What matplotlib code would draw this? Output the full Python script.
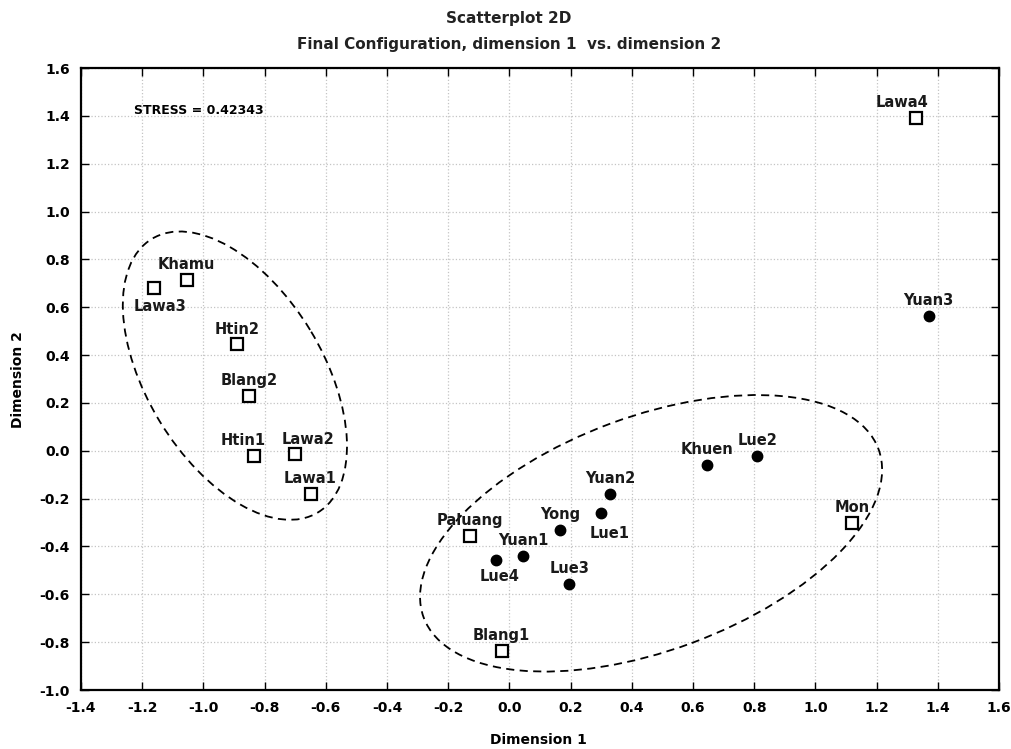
import matplotlib
matplotlib.use("Agg")
import matplotlib.pyplot as plt
from matplotlib.patches import Ellipse
from matplotlib.transforms import Affine2D

# coordinates from the MDS solution
names = ["Khamu", "Lawa3", "Htin2", "Blang2", "Htin1", "Lawa2", "Lawa1",
         "Paluang", "Lue4", "Yuan1", "Yong", "Lue1", "Yuan2", "Lue3",
         "Blang1", "Khuen", "Lue2", "Mon", "Lawa4", "Yuan3"]
dim1 = [-1.055, -1.16, -0.89, -0.85, -0.835, -0.70, -0.65,
        -0.13, -0.045, 0.045, 0.165, 0.30, 0.33, 0.195,
        -0.025, 0.645, 0.81, 1.12, 1.33, 1.37]
dim2 = [0.715, 0.68, 0.445, 0.23, -0.02, -0.015, -0.18,
        -0.355, -0.455, -0.44, -0.33, -0.26, -0.18, -0.555,
        -0.835, -0.06, -0.02, -0.30, 1.39, 0.565]
# 's' = open square, 'c' = filled circle
kind = ["s", "s", "s", "s", "s", "s", "s",
        "s", "c", "c", "c", "c", "c", "c",
        "s", "c", "c", "s", "s", "c"]

xticks = [-1.4, -1.2, -1.0, -0.8, -0.6, -0.4, -0.2, 0.0, 0.2, 0.4, 0.6, 0.8, 1.0, 1.2, 1.4, 1.6]
yticks = [-1.0, -0.8, -0.6, -0.4, -0.2, 0.0, 0.2, 0.4, 0.6, 0.8, 1.0, 1.2, 1.4, 1.6]
stress = 0.42343

# label offsets in points (dx, dy)
label_off = {"Lawa3": (4, -13), "Lue4": (3, -12), "Lue1": (6, -15),
             "Htin1": (-8, 11), "Lawa2": (9, 11), "Lawa4": (-10, 11)}


def main():
    fig = plt.figure(figsize=(10.11, 7.49), dpi=100)
    ax = fig.add_axes([81 / 1011, 1 - 690 / 749, 918 / 1011, 622 / 749])

    ax.set_xlim(-1.4, 1.6)
    ax.set_ylim(-1.0, 1.6)
    ax.set_xticks(xticks)
    ax.set_yticks(yticks)
    ax.set_xticklabels([f"{v:.1f}" for v in xticks], weight="bold", fontsize=10)
    ax.set_yticklabels([f"{v:.1f}" for v in yticks], weight="bold", fontsize=10)
    ax.tick_params(direction="in", length=6, width=1, top=True, right=True, pad=8)
    ax.grid(True, color="#c4c4c4", linestyle=":", linewidth=0.9)
    ax.set_axisbelow(True)
    for sp in ax.spines.values():
        sp.set_linewidth(1.6)

    for n, x, y, k in zip(names, dim1, dim2, kind):
        if k == "s":
            ax.plot(x, y, marker="s", ms=8, mfc="white", mec="black", mew=1.6, ls="none", zorder=3)
        else:
            ax.plot(x, y, marker="o", ms=7.5, mfc="black", mec="black", ls="none", zorder=3)
        dx, dy = label_off.get(n, (0, 11))
        ax.annotate(n, (x, y), xytext=(dx, dy), textcoords="offset points",
                    ha="center", va="center", fontsize=10.5, weight="bold", color="#1a1a1a")

    # dashed group ellipses, sized in pixels
    sx, sy = 918 / 3.0, 622 / 2.6
    groups = [(-0.897, 0.314, 160, 88, 121.3), (0.463, -0.345, 242.5, 117, 20.3)]
    for cx, cy, a, b, ang in groups:
        tr = Affine2D().scale(1 / sx, 1 / sy).translate(cx, cy) + ax.transData
        e = Ellipse((0, 0), 2 * a, 2 * b, angle=ang, fill=False, ls=(0, (4.5, 3)),
                    lw=1.3, ec="black", transform=tr)
        ax.add_patch(e)

    ax.text(0.058, 0.932, f"STRESS = {stress}", transform=ax.transAxes,
            fontsize=9, weight="bold", va="center", ha="left")

    fig.text(509 / 1011, 1 - 18 / 749, "Scatterplot 2D", ha="center", va="center",
             fontsize=11, weight="bold", color="#222222")
    fig.text(509 / 1011, 1 - 45 / 749, "Final Configuration, dimension 1  vs. dimension 2",
             ha="center", va="center", fontsize=11, weight="bold", color="#222222")
    fig.text(538 / 1011, 1 - 740 / 749, "Dimension 1", ha="center", va="center",
             weight="bold", fontsize=10)
    fig.text(18 / 1011, 1 - 380 / 749, "Dimension 2", ha="center", va="center",
             rotation=90, weight="bold", fontsize=10)

    fig.savefig("out.png", dpi=100)


if __name__ == "__main__":
    main()
